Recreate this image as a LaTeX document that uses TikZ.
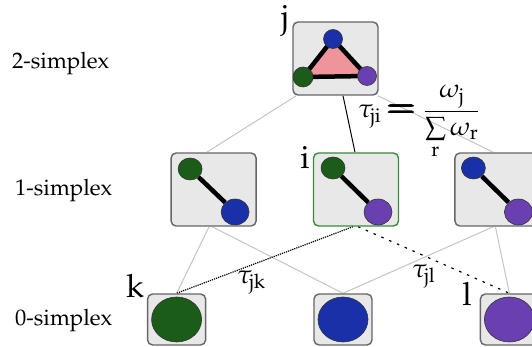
\documentclass[tikz,border=0pt]{standalone}
\usepackage[T1]{fontenc}
\usepackage{mathpazo}
\usepackage{amsmath}
\usepackage{graphicx}
\usepackage{tikz}
\usetikzlibrary{positioning,shapes.geometric,backgrounds}
\DeclareMathSizes{26}{26}{20}{15}
\definecolor{cellfill}{HTML}{E8E8E8}
\definecolor{cellline}{HTML}{666666}
\definecolor{hiline}{HTML}{3A8A3A}
\definecolor{vgreen}{HTML}{1A5C18}
\definecolor{vblue}{HTML}{1A30A8}
\definecolor{vpurple}{HTML}{6A40B0}
\definecolor{facefill}{HTML}{F0949C}
\definecolor{linkgray}{HTML}{C4C4C4}
\tikzset{
  cell/.style={draw=cellline, line width=1.4pt, rounded corners=5pt, fill=cellfill, minimum width=85pt, minimum height=73pt, inner sep=0pt},
  cellsm/.style={cell, minimum width=58pt, minimum height=51pt},
  vtx/.style={ellipse, draw=black!80, line width=0.6pt, inner sep=0pt},
  dotsm/.style={vtx, minimum width=24pt, minimum height=22pt},
  dotlg/.style={vtx, minimum width=28pt, minimum height=26pt},
  dottri/.style={vtx, minimum width=19pt, minimum height=19pt},
  dotbig/.style={vtx, minimum width=50pt, minimum height=45pt},
  bond/.style={line width=4.5pt, black},
  link/.style={linkgray, line width=1pt},
  lvl/.style={font=\fontsize{22.5}{26}\selectfont, inner sep=0pt, anchor=base west},
  tag/.style={font=\fontsize{32}{36}\selectfont, inner sep=0pt, anchor=base east},
  wt/.style={font=\fontsize{26}{30}\selectfont, inner sep=0pt, anchor=base west}
}
\newcommand{\bigeq}{\mathrel{\scalebox{1.3}[1.2]{$\pmb{\pmb{=}}$}}}

\begin{document}
\begin{tikzpicture}[x=1pt, y=-1pt]
  \useasboundingbox (0,0) rectangle (532,347);

  % cells
  \node[cell] (t) at (335.5,58.5) {};
  \node[cell, draw=hiline] (e2) at (356,189.5) {};
  \node[cell, left=56pt of e2] (e1) {};
  \node[cell, right=55pt of e2] (e3) {};
  \node[cellsm] (v2) at (343,319.5) {};
  \node[cellsm, left=107pt of v2] (v1) {};
  \node[cellsm, right=107pt of v2] (v3) {};

  % 2-simplex
  \coordinate (tb) at ([shift={(-2.5,-19.5)}]t.center);
  \coordinate (tg) at ([shift={(-32.5,18.5)}]t.center);
  \coordinate (tp) at ([shift={(31.5,17.5)}]t.center);
  \draw[bond, fill=facefill, line join=round] (tb) -- (tg) -- (tp) -- cycle;
  \node[dottri, fill=vblue] (tbn) at (tb) {};
  \node[dottri, minimum width=20pt, minimum height=20pt, fill=vgreen] (tgn) at (tg) {};
  \node[dottri, fill=vpurple] (tpn) at (tp) {};

  % 1-simplices
  \node[dotsm, fill=vgreen] (e1a) at ([shift={(-23.5,-20.5)}]e1.center) {};
  \node[dotlg, fill=vblue] (e1b) at ([shift={(21.5,22.5)}]e1.center) {};
  \draw[bond] (e1a) -- (e1b);
  \node[dotsm, fill=vgreen] (e2a) at ([shift={(-23,-21.5)}]e2.center) {};
  \node[dotlg, fill=vpurple] (e2b) at ([shift={(22,22.5)}]e2.center) {};
  \draw[bond] (e2a) -- (e2b);
  \node[dotsm, fill=vblue] (e3a) at ([shift={(-24,-21.5)}]e3.center) {};
  \node[dotlg, fill=vpurple] (e3b) at ([shift={(21,22.5)}]e3.center) {};
  \draw[bond] (e3a) -- (e3b);

  % 0-simplices
  \node[dotbig, fill=vgreen] (v1a) at (v1.center) {};
  \node[dotbig, fill=vblue] (v2a) at (v2.center) {};
  \node[dotbig, fill=vpurple] (v3a) at (v3.center) {};

  \begin{pgfonlayer}{background}
    \draw[link] ([xshift=4pt]t.south west) -- ([xshift=-7pt]e1.north);
    \draw[black, line width=1pt] ([xshift=7.5pt]t.south) -- ([xshift=-1pt]e2.north);
    \draw[link] ([xshift=-1pt]t.south east) -- ([xshift=-4pt]e3.north);
    \draw[link] ([xshift=-4.5pt]e1.south) -- (v1.north);
    \draw[link] ([xshift=-1.5pt]e1.south) -- (v2.north);
    \draw[black, line width=1.2pt, densely dotted] ([xshift=-3pt]e2.south) -- (v1.north);
    \draw[black, line width=1.2pt, dash pattern=on 2.5pt off 6pt] ([xshift=2pt]e2.south) -- (v3.north);
    \draw[link] ([xshift=-4pt]e3.south) -- (v2.north);
    \draw[link] ([xshift=-2pt]e3.south) -- (v3.north);
  \end{pgfonlayer}

  % labels
  \node[lvl] (l2) at (12,69) {2-simplex};
  \node[lvl] (l1) at (15,196) {1-simplex};
  \node[lvl] (l0) at (15,325) {0-simplex};
  \node[tag] (tj) at (289,28) {j};
  \node[tag] (ti) at (310,169) {i};
  \node[tag] (tk) at (144,297) {k};
  \node[tag] (tl) at (472,305) {l};
  \node[wt] (wjk) at (237,283) {$\tau_{\mathrm{jk}}$};
  \node[wt] (wjl) at (412,277) {$\tau_{\mathrm{jl}}$};
  \node[wt] (wji) at (358,118) {$\tau_{\mathrm{ji}}\bigeq\dfrac{\omega_{\mathrm{j}}}{\sum\limits_{\mathrm{r}}\omega_{\mathrm{r}}}$};
\end{tikzpicture}
\end{document}
